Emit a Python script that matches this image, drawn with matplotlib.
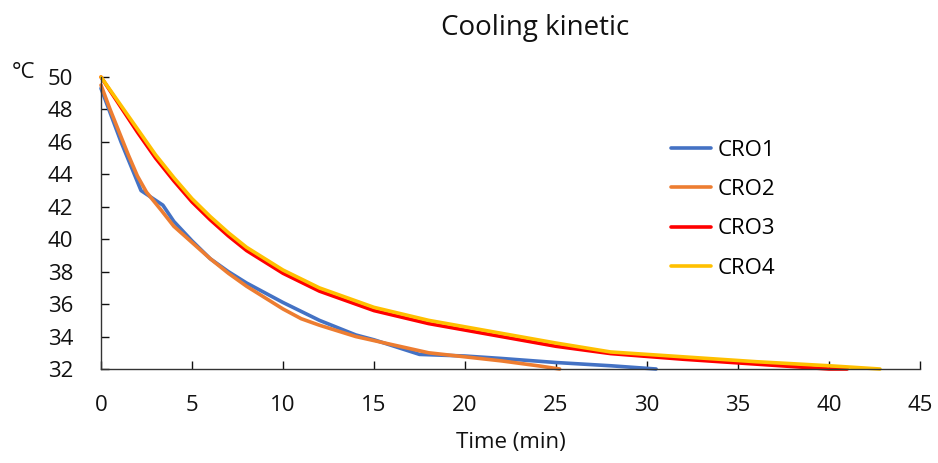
import matplotlib
matplotlib.use("Agg")
import matplotlib.pyplot as plt

plt.rcParams["font.family"] = ["Open Sans", "DejaVu Sans"]

# time (min) / temperature (°C)
t_cro1 = [0, 1.1, 2.2, 3.4, 4.0, 5, 6, 7, 8, 9, 10, 12, 14, 15, 17.5, 20, 22, 25, 28, 30.5]
y_cro1 = [49.3, 46.0, 43.0, 42.1, 41.1, 39.9, 38.8, 38.0, 37.3, 36.7, 36.1, 35.0, 34.1, 33.8, 32.9, 32.8, 32.65, 32.4, 32.2, 32.0]

t_cro2 = [0, 0.5, 1, 1.5, 2, 2.5, 3.3, 4, 5, 6, 7, 8, 9, 10, 11, 12, 14, 16, 18, 20, 22, 24, 25.2]
y_cro2 = [49.5, 48.0, 46.6, 45.2, 43.9, 42.9, 41.8, 40.8, 39.8, 38.8, 37.9, 37.1, 36.4, 35.7, 35.1, 34.7, 34.0, 33.5, 33.0, 32.75, 32.5, 32.2, 32.0]

t_cro3 = [0, 1, 2, 3, 4, 5, 6, 7, 8, 10, 12, 15, 18, 20, 22, 25, 28, 32, 36, 40, 41]
y_cro3 = [50, 48.3, 46.6, 45.0, 43.6, 42.3, 41.2, 40.2, 39.3, 37.9, 36.8, 35.6, 34.8, 34.4, 34.0, 33.4, 32.95, 32.6, 32.3, 32.0, 32.0]

t_cro4 = [0, 1, 2, 3, 4, 5, 6, 7, 8, 10, 12, 15, 18, 20, 22, 25, 28, 32, 36, 40, 42.8]
y_cro4 = [50, 48.4, 46.8, 45.2, 43.8, 42.5, 41.4, 40.4, 39.5, 38.1, 37.0, 35.8, 35.0, 34.6, 34.2, 33.6, 33.05, 32.75, 32.45, 32.2, 32.0]

series = [
    ("CRO1", t_cro1, y_cro1, "#4472C4"),
    ("CRO2", t_cro2, y_cro2, "#ED7D31"),
    ("CRO3", t_cro3, y_cro3, "#FF0000"),
    ("CRO4", t_cro4, y_cro4, "#FFC000"),
]

x_ticks = list(range(0, 46, 5))
y_ticks = list(range(32, 51, 2))

fig = plt.figure(figsize=(9.38, 4.63), dpi=100)
ax = fig.add_axes([101 / 938, 1 - 369 / 463, (920 - 101) / 938, (369 - 77) / 463])

for name, t, y, color in series:
    ax.plot(t, y, color=color, linewidth=2.6, label=name, solid_capstyle="round", clip_on=False)

ax.set_xlim(0, 45)
ax.set_ylim(32, 50)
ax.set_xticks(x_ticks)
ax.set_yticks(y_ticks)
ax.tick_params(direction="in", length=6, width=1, labelsize=16, colors="#111111")
ax.tick_params(axis="x", pad=19)
ax.tick_params(axis="y", pad=20)
for side in ("top", "right"):
    ax.spines[side].set_visible(False)
for side in ("left", "bottom"):
    ax.spines[side].set_color("#333333")
    ax.spines[side].set_linewidth(1.0)

ax.set_xlabel("Time (min)", fontsize=16, color="#111111", labelpad=11)
fig.text(12 / 938, 1 - 73 / 463, "°C", fontsize=16, color="#111111", va="center", ha="left")
fig.text(535 / 938, 1 - 28 / 463, "Cooling kinetic", fontsize=20, color="#111111", ha="center", va="center")

ax.legend(loc="upper left", bbox_to_anchor=(662 / 938, 1 - 131 / 463), bbox_transform=fig.transFigure,
          frameon=False, fontsize=16, handlelength=1.8, handletextpad=0.3, labelspacing=0.82,
          borderaxespad=0)

fig.savefig("out.png", dpi=100)
